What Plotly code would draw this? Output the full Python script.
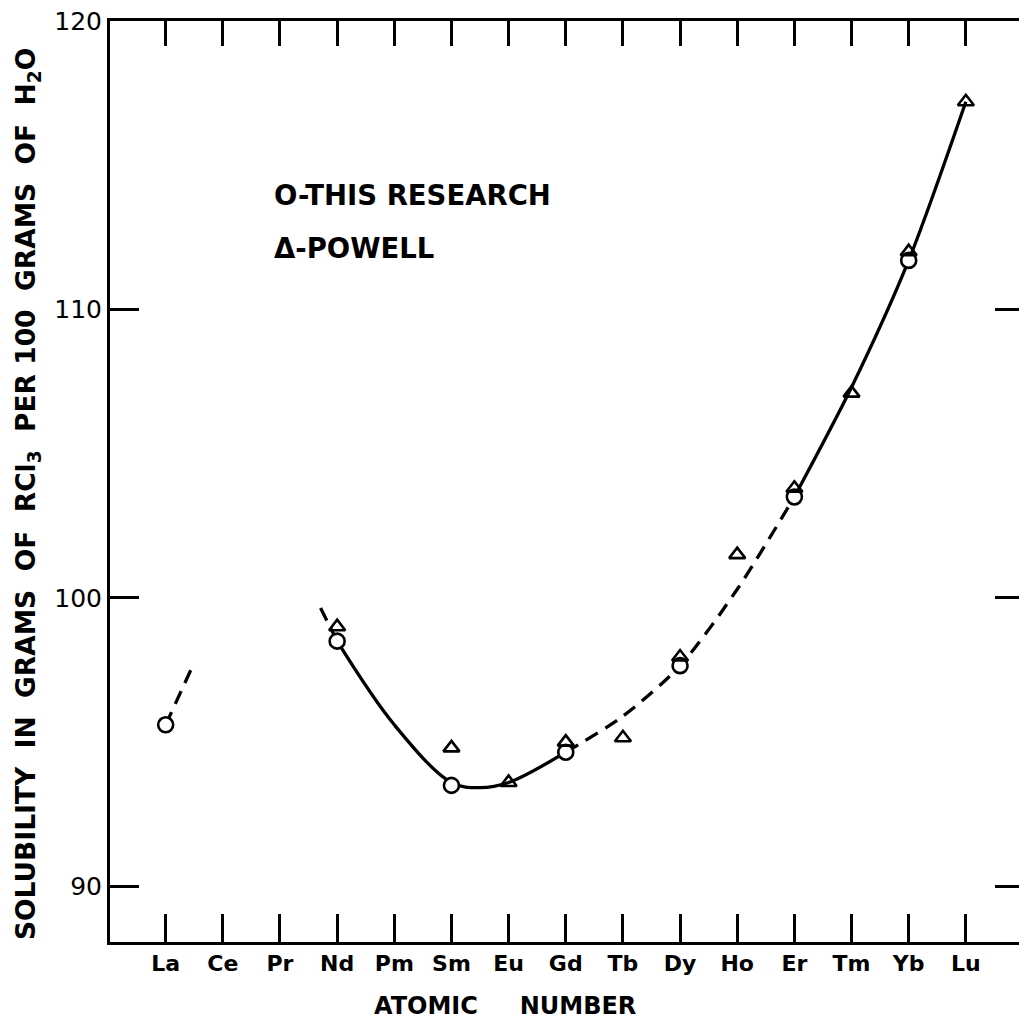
import plotly.graph_objects as go

# Rare-earth elements along the x axis (ordered by atomic number)
elements = ["La", "Ce", "Pr", "Nd", "Pm", "Sm", "Eu", "Gd", "Tb", "Dy", "Ho", "Er", "Tm", "Yb", "Lu"]

# Solubility, g RCl3 per 100 g H2O
research_elem = ["La", "Nd", "Sm", "Gd", "Dy", "Er", "Yb"]
research_val = [95.6, 98.5, 93.5, 94.65, 97.65, 103.5, 111.7]

powell_elem = ["Nd", "Sm", "Eu", "Gd", "Tb", "Dy", "Ho", "Er", "Tm", "Yb", "Lu"]
powell_val = [99.0, 94.8, 93.6, 95.0, 95.15, 97.95, 101.5, 103.8, 107.1, 112.0, 117.2]

# Hand-drawn smooth curve, read at element positions (fractional = between elements)
curve_a_pos = [3, 4, 5, 5.5, 6, 7]
curve_a_val = [98.5, 95.6, 93.6, 93.42, 93.6, 94.65]
curve_b_pos = [7, 8, 9, 10, 11]
curve_b_val = [94.65, 95.9, 97.65, 100.3, 103.5]
curve_c_pos = [11, 12, 13, 14]
curve_c_val = [103.5, 107.3, 111.7, 117.2]
la_tail_pos = [0, 0.44]
la_tail_val = [95.6, 97.5]
nd_lead_pos = [2.71, 3]
nd_lead_val = [99.65, 98.5]

y_ticks = [90, 100, 110, 120]

idx = {e: i for i, e in enumerate(elements)}
research_x = [idx[e] for e in research_elem]
powell_x = [idx[e] for e in powell_elem]

BLACK = "#000000"
FONT = "DejaVu Sans"
DASH = "14px,9px"
LW = 3.3

fig = go.Figure()


def curve(xs, ys, dash="solid", smoothing=0.8):
    fig.add_trace(go.Scatter(
        x=xs, y=ys, mode="lines",
        line=dict(color=BLACK, width=LW, dash=dash, shape="spline", smoothing=smoothing),
        showlegend=False, hoverinfo="skip",
    ))


curve(la_tail_pos, la_tail_val, DASH)
curve(nd_lead_pos, nd_lead_val, DASH)
curve(curve_a_pos, curve_a_val, smoothing=1.0)
curve(curve_b_pos, curve_b_val, DASH)
curve(curve_c_pos, curve_c_val)

fig.add_trace(go.Scatter(
    x=research_x, y=research_val, mode="markers", name="This research",
    marker=dict(symbol="circle", size=15, color="white", line=dict(color=BLACK, width=2.6)),
    showlegend=False,
))
fig.add_trace(go.Scatter(
    x=powell_x, y=powell_val, mode="markers", name="Powell",
    marker=dict(symbol="triangle-up-open", size=14, color=BLACK, line=dict(color=BLACK, width=2.6)),
    showlegend=False,
))

# invisible trace so the mirrored top/right tick axes are drawn
fig.add_trace(go.Scatter(x=[0], y=[100], xaxis="x2", yaxis="y2", mode="markers",
                         marker=dict(opacity=0), showlegend=False, hoverinfo="skip"))

x_range = [-0.974, 14.93]
y_range = [88.07, 120]

fig.update_layout(
    width=1019, height=1030,
    margin=dict(l=110, r=0, t=21, b=88),
    paper_bgcolor="white", plot_bgcolor="white",
    font=dict(family=FONT, color=BLACK),
    xaxis=dict(
        range=x_range, tickmode="array", tickvals=list(range(len(elements))), ticktext=elements,
        ticks="inside", ticklen=28, tickwidth=3, tickcolor=BLACK,
        showline=True, linewidth=3, linecolor=BLACK, showgrid=False, zeroline=False,
        tickfont=dict(family=FONT, size=22, weight="bold"),
    ),
    xaxis2=dict(
        range=x_range, overlaying="x", side="top", anchor="y",
        tickmode="array", tickvals=list(range(len(elements))),
        ticks="inside", ticklen=25, tickwidth=3, tickcolor=BLACK,
        showline=True, linewidth=3, linecolor=BLACK, showgrid=False, zeroline=False,
        showticklabels=False,
    ),
    yaxis=dict(
        range=y_range, tickmode="array", tickvals=y_ticks,
        ticks="inside", ticklen=29, tickwidth=3, tickcolor=BLACK,
        showline=True, linewidth=3, linecolor=BLACK, showgrid=False, zeroline=False,
        tickfont=dict(family=FONT, size=25),
    ),
    yaxis2=dict(
        range=y_range, overlaying="y", side="right", anchor="x",
        tickmode="array", tickvals=y_ticks[:3],
        ticks="inside", ticklen=24, tickwidth=3, tickcolor=BLACK,
        showline=False, showgrid=False, zeroline=False, showticklabels=False,
    ),
)

NB = "\u00a0"
gap = NB * 2
ytitle = gap.join(["SOLUBILITY", "IN", "GRAMS", "OF", "RCl<sub>3</sub>", "PER" + NB + "100",
                   "GRAMS", "OF", "H<sub>2</sub>O"])

plot_l, plot_r, plot_t, plot_b = 110, 1019, 21, 942


def px_to_paper(px, py):
    return (px - plot_l) / (plot_r - plot_l), (plot_b - py) / (plot_b - plot_t)


ax, ay = px_to_paper(27, 494)
fig.add_annotation(x=ax, y=ay, xref="paper", yref="paper", text=ytitle, textangle=-90,
                   showarrow=False, xanchor="center", yanchor="middle",
                   font=dict(family=FONT, size=26.5, weight="bold", color=BLACK))

bx, by = px_to_paper(505, 1006)
fig.add_annotation(x=bx, y=by, xref="paper", yref="paper", text="ATOMIC" + NB * 5 + "NUMBER",
                   showarrow=False, xanchor="center", yanchor="middle",
                   font=dict(family=FONT, size=24, weight="bold", color=BLACK))

lx1, ly1 = px_to_paper(272, 195)
fig.add_annotation(x=lx1, y=ly1, xref="paper", yref="paper", text="O-THIS" + NB + "RESEARCH",
                   showarrow=False, xanchor="left", yanchor="middle",
                   font=dict(family=FONT, size=27.5, weight="bold", color=BLACK))
lx2, ly2 = px_to_paper(272, 248)
fig.add_annotation(x=lx2, y=ly2, xref="paper", yref="paper", text="\u0394-POWELL",
                   showarrow=False, xanchor="left", yanchor="middle",
                   font=dict(family=FONT, size=27.5, weight="bold", color=BLACK))

fig.write_html("out.html")
